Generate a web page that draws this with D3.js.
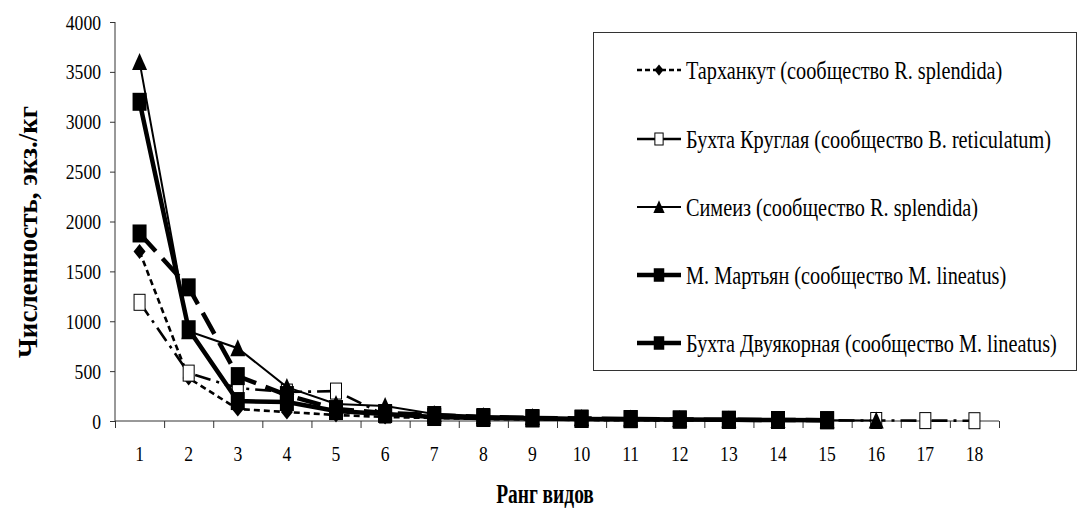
<!DOCTYPE html>
<html><head><meta charset="utf-8">
<script src="https://cdn.jsdelivr.net/npm/d3@7"></script>
<style>
html,body{margin:0;padding:0;background:#fff;}
svg{display:block;}
</style></head>
<body>
<svg id="chart" width="1082" height="508" font-family="'Liberation Serif', 'Times New Roman', Tinos, 'DejaVu Serif', serif"></svg>
<script>
const ranks = [1,2,3,4,5,6,7,8,9,10,11,12,13,14,15,16,17,18];
const yTicks = [0,500,1000,1500,2000,2500,3000,3500,4000];
const seriesNames = [
  "Тарханкут (сообщество R. splendida)",
  "Бухта Круглая (сообщество B. reticulatum)",
  "Симеиз (сообщество R. splendida)",
  "М. Мартьян (сообщество M. lineatus)",
  "Бухта Двуякорная (сообщество M. lineatus)"
];
const tarkhankut = [1700, 430, 120, 90, 60, 40, 30, 20, 15, 10, 8, 5];
const kruglaya = [1190, 480, 330, 290, 300, 60, 40, 30, 25, 20, 15, 12, 10, 8, 6, 5, 4, 3];
const simeiz = [3600, 900, 730, 340, 170, 150, 70, 50, 40, 30, 25, 20, 15, 10, 8, 5];
const martyan = [1880, 1340, 450, 260, 120, 80, 60, 40, 30, 25, 20, 15, 12, 10, 8];
const dvuyakornaya = [3200, 920, 200, 190, 100, 70, 40, 30, 25, 20, 18, 15, 12, 10, 8];
const xTitle = "Ранг видов";
const yTitle = "Численность, экз./кг";

const styles = [
  {dash:"6,4", width:2.6, marker:"diamond", legDash:"5,3"},
  {dash:"16,6,3,6", width:2.6, marker:"open", legDash:null},
  {dash:null, width:2, marker:"triangle", legDash:null},
  {dash:"24,10", width:4.5, marker:"square", legDash:null},
  {dash:null, width:4.5, marker:"square", legDash:null}
];
const allSeries = [tarkhankut, kruglaya, simeiz, martyan, dvuyakornaya];

const svg = d3.select("#chart");
const x = d3.scaleBand().domain(ranks).range([115, 999]);
const xb = d3.scaleLinear().domain([0, ranks.length]).range([115, 999]);
const y = d3.scaleLinear().domain([0, 4000]).range([421, 22]);
const axisColor = "#333";

// Y axis
const gy = svg.append("g").attr("transform","translate(115,0)")
  .call(d3.axisLeft(y).tickValues(yTicks).tickSize(5).tickFormat(""));
gy.selectAll("path,line").attr("stroke", axisColor).attr("stroke-width",1);
gy.select(".domain").attr("d", `M0,${y(4000)}V${y(0)}`);
yTicks.forEach(v=>{
  svg.append("text").attr("transform",`translate(101,${y(v)+7.5}) scale(0.8,1)`)
    .attr("text-anchor","end").attr("font-size",22).text(v);
});

// X axis
const gx = svg.append("g").attr("transform","translate(0,421)")
  .call(d3.axisBottom(xb).tickValues(d3.range(0, ranks.length+1)).tickSize(7).tickFormat(""));
gx.selectAll("path,line").attr("stroke", axisColor).attr("stroke-width",1);
gx.select(".domain").attr("d", `M115,0H999`);
ranks.forEach(r=>{
  svg.append("text").attr("transform",`translate(${x(r)+x.bandwidth()/2},461) scale(0.8,1)`)
    .attr("text-anchor","middle").attr("font-size",22).text(r);
});

// titles
svg.append("text").attr("transform","translate(545,503) scale(0.72,1)")
  .attr("text-anchor","middle").attr("font-size",27).attr("font-weight","bold").text(xTitle);
svg.append("text").attr("transform","translate(37,232) rotate(-90)")
  .attr("text-anchor","middle").attr("font-size",27).attr("font-weight","bold").text(yTitle);

function marker(g, type, cx, cy, s) {
  if (type === "diamond") {
    g.append("path").attr("d", `M${cx},${cy-7.5*s}L${cx+6*s},${cy}L${cx},${cy+7.5*s}L${cx-6*s},${cy}Z`).attr("fill","#000");
  } else if (type === "open") {
    g.append("rect").attr("x",cx-5.5*s).attr("y",cy-8*s).attr("width",11*s).attr("height",16*s)
      .attr("fill","#fff").attr("stroke","#000").attr("stroke-width",1);
  } else if (type === "triangle") {
    g.append("path").attr("d", `M${cx},${cy-9*s}L${cx+7.5*s},${cy+8*s}L${cx-7.5*s},${cy+8*s}Z`).attr("fill","#000");
  } else {
    g.append("rect").attr("x",cx-7*s).attr("y",cy-9*s).attr("width",14*s).attr("height",18*s).attr("fill","#000");
  }
}

const line = d3.line().x((d,i)=>x(ranks[i]) + x.bandwidth()/2).y(d=>y(d));
allSeries.forEach((data, si)=>{
  const st = styles[si];
  const g = svg.append("g");
  g.append("path").attr("d", line(data)).attr("fill","none").attr("stroke","#000")
    .attr("stroke-width", st.width).attr("stroke-dasharray", st.dash);
  data.forEach((v,i)=> marker(g, st.marker, x(ranks[i]) + x.bandwidth()/2, y(v), 1));
});

// Legend
const lg = svg.append("g");
lg.append("rect").attr("x",593.5).attr("y",32.5).attr("width",483).attr("height",338)
  .attr("fill","#fff").attr("stroke",axisColor).attr("stroke-width",1);
const legY = [70, 139, 207, 275, 343];
seriesNames.forEach((name, i)=>{
  const st = styles[i];
  const ly = legY[i];
  lg.append("line").attr("x1",637).attr("x2",681).attr("y1",ly).attr("y2",ly)
    .attr("stroke","#000").attr("stroke-width",st.width).attr("stroke-dasharray", st.legDash);
  marker(lg, st.marker, 659, ly, 0.75);
  lg.append("text").attr("transform",`translate(686,${ly+8.5}) scale(0.78,1)`)
    .attr("font-size",26).text(name);
});
</script>
</body></html>
